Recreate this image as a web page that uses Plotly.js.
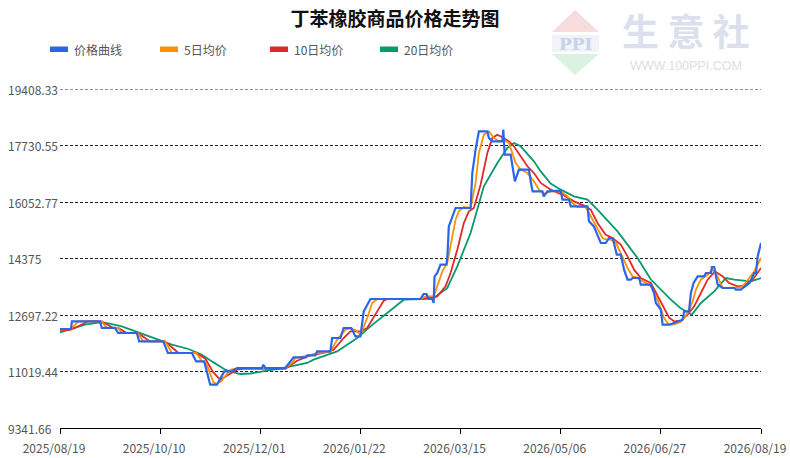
<!DOCTYPE html>
<html>
<head>
<meta charset="utf-8">
<script src="https://cdn.plot.ly/plotly-3.0.1.min.js"></script>
<style>
  html, body { margin: 0; padding: 0; background: #fff; }
  #chart { width: 790px; height: 458px; }
</style>
</head>
<body>
<div id="chart"></div>
<script>
// ---------------- data (x = days since 2025/08/19) ----------------
const xTickPos = [0, 52, 104, 156, 208, 260, 312, 364];
const xTickLabels = ['2025/08/19', '2025/10/10', '2025/12/01', '2026/01/22', '2026/03/15', '2026/05/06', '2026/06/27', '2026/08/19'];
const yTickVals = [9341.66, 11019.44, 12697.22, 14375, 16052.77, 17730.55, 19408.33];
const yTickLabels = ['9341.66', '11019.44', '12697.22', '14375', '16052.77', '17730.55', '19408.33'];
const seriesNames = ['价格曲线', '5日均价', '10日均价', '20日均价'];

const priceX = [0,5.7,6.2,20.8,21.7,28.6,30.2,39.9,41.1,53.6,
  56,68.5,70.7,74.9,78,81.5,85.3,88.9,92,104.9,
  105.6,106.6,117,121.3,127.4,128.4,132.6,133.5,140.4,141.3,
  145.6,147.3,151.3,153.4,156,157.7,161.2,187.2,188.8,190.3,
  191.4,193.4,194,194.5,195.9,197.6,200.7,201.2,201.9,203.7,
  205.4,213.2,214.1,215.8,217.5,221.9,222.7,224.5,229.7,230.2,
  230.9,234,236.2,238.3,243.5,244.4,245.4,250.5,251.2,253.1,
  260,260.9,264.3,265.2,273.9,274.7,277.2,280.8,283.4,285.1,
  287,289.1,291.2,292.9,294.7,296.4,297.4,300.7,301.6,306.8,
  308.5,309.4,312,312.9,316.3,318.8,323.3,324.1,326.6,327.6,
  329,331.1,334.4,335.4,338,338.5,339.7,341.5,344.1,350.1,
  351,353.6,354.5,358,358.8,360.5,361.4,362.3,364];
const priceY = [12282,12282,12508,12508,12312,12312,12163,12163,11913,11913,
  11569,11569,11320,11320,10628,10628,11022,11022,11124,11124,
  11222,11124,11124,11438,11438,11497,11497,11616,11616,12014,
  12014,12311,12311,12062,12062,12805,13173,13173,13321,13321,
  13173,13173,13054,13844,13945,14191,14191,14488,15329,15626,
  15875,15875,16915,17607,18150,18150,17955,17853,17853,18201,
  17459,17459,16666,17013,17013,16666,16369,16369,16220,16369,
  16390,16122,16122,15923,15923,15478,15329,14836,14836,14984,
  14984,14489,14489,14043,13746,13746,13796,13796,13598,13598,
  13351,13054,12855,12409,12409,12460,12558,12805,12805,13351,
  13648,13844,13844,13945,13945,14123,14123,13598,13499,13499,
  13450,13450,13499,13648,13746,13945,13945,14440,14836];

const ma5X = [0,5.7,9.5,21.7,24.3,30.2,32.1,40.4,43.3,54.6,
  58.1,70.7,73.7,76,79.7,81.5,84,88.4,92,95,
  117,120.5,122.2,128.3,133.5,140.4,143.9,148.2,150.8,153.4,
  156,159.5,162.1,164.7,187.2,190,194.1,195.9,198.5,201.1,
  203.7,205.4,207.1,209.7,213.2,215.8,217.5,220.1,222.7,225.3,
  227.9,230.5,233.1,234.9,236.6,239.2,242.7,246.1,248.7,251.3,
  254.8,260,263.5,266.1,268.7,273,275.6,279.1,281.7,283.4,
  286,288.6,292,294.7,297.3,299.9,304.2,306.8,310.3,313.7,
  316.3,319,322.4,325.9,328.5,330.2,332.8,336.3,338.8,341,
  344.1,351,353,355.3,358.8,360.5,364];
const ma5Y = [12261,12282,12508,12508,12312,12312,12163,12163,11913,11913,
  11569,11569,11320,11250,10700,10650,10750,11073,11110,11124,
  11124,11272,11421,11480,11569,11600,11964,12261,12300,12250,
  12113,12608,13054,13173,13173,13250,13250,13547,13993,14242,
  15032,15528,15775,15905,15875,16618,17509,18052,18150,17955,
  17853,17904,17806,17509,17212,17013,16915,16666,16419,16300,
  16369,16370,16220,16024,15905,15905,15626,15230,14984,14940,
  14934,14850,14440,14093,13844,13800,13648,13550,13150,12600,
  12409,12420,12500,12757,13102,13450,13746,13894,14043,13900,
  13499,13499,13520,13600,13844,13993,14390];

const ma10X = [0,5.7,14.7,21.7,27.7,30.2,34.7,40.4,46.8,54.6,
  61.5,70.7,75.5,79.5,83.2,87,91.9,95,117,123.1,
  130,136.9,142.1,147.3,150.8,156,159.5,164.7,168.1,170,
  187.2,195.9,200.2,202.8,206.3,209.7,212.3,214.9,218.4,221.9,
  224.5,227.1,230.5,233.1,235.7,239.2,242.7,246.1,249.6,254.8,
  261.7,266.9,272.1,275.6,279.1,283.4,286.9,291.2,294.7,298.1,
  301.6,306.8,310.3,314,316.3,318.9,322.4,325.9,329.3,332.8,
  336.3,340.1,344,347.4,351.9,355.3,359.7,364];
const ma10Y = [12230,12260,12508,12508,12312,12312,12163,12163,11913,11913,
  11569,11569,11400,11000,10776,10900,11073,11100,11100,11340,
  11497,11569,11667,12014,12211,12211,12311,12805,13122,13173,
  13173,13250,13547,13945,14636,15430,15775,15875,16567,17509,
  17955,18052,17955,17853,17707,17410,17113,16915,16620,16420,
  16250,16072,15944,15825,15430,15082,14984,14786,14440,14043,
  13796,13648,13280,12850,12620,12508,12530,12707,12955,13351,
  13746,13993,13850,13648,13547,13580,13746,14093];

const ma20X = [0,13,20.8,25.1,32.1,40.7,49.4,58.1,66.7,73.7,
  78.9,85.8,88.4,93.6,98.8,105.7,116.1,128.3,131.7,143.9,
  154.3,161.2,169.9,178.5,188.1,194.1,201.1,206.3,213.2,220.1,
  227.1,232.3,235.7,239.2,246.1,249.6,254.8,260,266.9,273.9,
  279.1,289.5,299.9,306.8,317.2,322.1,328.1,332.8,339.7,345.8,
  350.1,358.8,364];
const ma20Y = [12181,12409,12478,12450,12359,12181,12014,11815,11688,11518,
  11320,11073,11020,10945,10960,11020,11124,11272,11370,11616,
  12014,12359,12757,13152,13173,13200,13500,14141,15133,16517,
  17212,17657,17806,17707,17260,16962,16600,16419,16220,16122,
  15825,15180,14390,13750,13152,12905,12707,13054,13399,13796,
  13746,13697,13796];

// ---------------- styling ----------------
const colors = ['#2a66ea', '#ff9000', '#e02a2a', '#079a6c'];
const FONT = '"Noto Sans CJK SC", "Noto Sans", sans-serif';

// plot-area geometry helpers (pixel -> paper) for decorations outside the axes
const W = 790, H = 458;
const M = {l: 60, r: 29, t: 89, b: 30};
const PW = W - M.l - M.r, PH = H - M.t - M.b;
const px = v => (v - M.l) / PW;
const py = v => (H - M.b - v) / PH;

const traces = [
  {x: ma20X, y: ma20Y, name: seriesNames[3], line: {color: colors[3], width: 1.8}},
  {x: ma10X, y: ma10Y, name: seriesNames[2], line: {color: colors[2], width: 1.8}},
  {x: ma5X,  y: ma5Y,  name: seriesNames[1], line: {color: colors[1], width: 1.8}},
  {x: priceX, y: priceY, name: seriesNames[0], line: {color: colors[0], width: 2.2}}
].map(t => Object.assign({type: 'scatter', mode: 'lines', hoverinfo: 'skip'}, t));

const annotations = [];
const shapes = [];

// y-axis labels, left aligned
yTickVals.forEach((v, i) => {
  annotations.push({
    xref: 'paper', yref: 'y', x: px(6), y: v, xanchor: 'left', yanchor: 'middle',
    text: yTickLabels[i], showarrow: false,
    font: {family: FONT, size: 12, color: '#555'}
  });
});

// top grid line (sits on the plot edge, so Plotly would skip it)
shapes.push({
  type: 'line', xref: 'paper', yref: 'y', layer: 'below',
  x0: 0, x1: 1, y0: yTickVals[yTickVals.length - 1], y1: yTickVals[yTickVals.length - 1],
  line: {color: '#222', width: 1, dash: '3px,2px'}
});

// custom legend
const legendSwatchX = [50, 160, 270, 380];
seriesNames.forEach((n, i) => {
  const x0 = legendSwatchX[i];
  shapes.push({
    type: 'rect', xref: 'paper', yref: 'paper',
    x0: px(x0), x1: px(x0 + 18), y0: py(52), y1: py(46.5),
    fillcolor: colors[i], line: {width: 0}
  });
  annotations.push({
    xref: 'paper', yref: 'paper', x: px(x0 + 22), y: py(49.5),
    xanchor: 'left', yanchor: 'middle', text: n, showarrow: false,
    font: {family: FONT, size: 12, color: '#555'}
  });
});

// watermark logo
shapes.push({
  type: 'path', xref: 'paper', yref: 'paper', layer: 'below',
  path: `M ${px(552)} ${py(32)} L ${px(575)} ${py(10)} L ${px(599)} ${py(32)} Z`,
  fillcolor: '#f7dcdc', line: {width: 0}
});
shapes.push({
  type: 'rect', xref: 'paper', yref: 'paper', layer: 'below',
  x0: px(552), x1: px(599), y0: py(52), y1: py(35),
  fillcolor: '#f1f3f8', line: {width: 0}
});
shapes.push({
  type: 'path', xref: 'paper', yref: 'paper', layer: 'below',
  path: `M ${px(552)} ${py(54)} L ${px(599)} ${py(54)} L ${px(575)} ${py(75)} Z`,
  fillcolor: '#dbf1e1', line: {width: 0}
});
annotations.push({
  xref: 'paper', yref: 'paper', x: px(576), y: py(43.5), xanchor: 'center', yanchor: 'middle',
  text: '<b>PPI</b>', showarrow: false,
  font: {family: '"DejaVu Serif", serif', size: 17, color: '#c8d2e8'}
});
annotations.push({
  xref: 'paper', yref: 'paper', x: px(686), y: py(30), xanchor: 'center', yanchor: 'middle',
  text: '生 意 社', showarrow: false,
  font: {family: FONT, size: 37, color: '#dbe0ec', weight: 'bold'}
});
annotations.push({
  xref: 'paper', yref: 'paper', x: px(686), y: py(66), xanchor: 'center', yanchor: 'middle',
  text: 'WWW.100PPI.COM', showarrow: false,
  font: {family: '"Liberation Sans", sans-serif', size: 12.5, color: '#dadee6'}
});

const layout = {
  width: W, height: H, autosize: false,
  margin: {l: M.l, r: M.r, t: M.t, b: M.b, pad: 0},
  paper_bgcolor: '#fff', plot_bgcolor: '#fff',
  showlegend: false,
  font: {family: FONT, size: 12, color: '#555'},
  title: {
    text: '丁苯橡胶商品价格走势图',
    x: 0.5, xref: 'container', xanchor: 'center',
    y: 1 - 19 / H, yref: 'container', yanchor: 'middle',
    font: {family: FONT, size: 19, color: '#111', weight: 'bold'}
  },
  xaxis: {
    range: [0, 364], fixedrange: true,
    tickmode: 'array', tickvals: xTickPos, ticktext: xTickLabels,
    ticks: 'outside', ticklen: 5, tickcolor: '#000', tickwidth: 1,
    showline: true, linecolor: '#000', linewidth: 1,
    showgrid: false, zeroline: false,
    ticklabelshift: -6, ticklabelstandoff: 5,
    tickfont: {family: FONT, size: 12, color: '#555'}
  },
  yaxis: {
    range: [yTickVals[0], yTickVals[yTickVals.length - 1]], fixedrange: true,
    tickmode: 'array', tickvals: yTickVals, showticklabels: false,
    ticks: '', showline: false, zeroline: false,
    showgrid: true, gridcolor: '#222', gridwidth: 1, griddash: '3px,2px'
  },
  annotations: annotations,
  shapes: shapes
};

Plotly.newPlot('chart', traces, layout, {displayModeBar: false, staticPlot: true});
</script>
</body>
</html>
